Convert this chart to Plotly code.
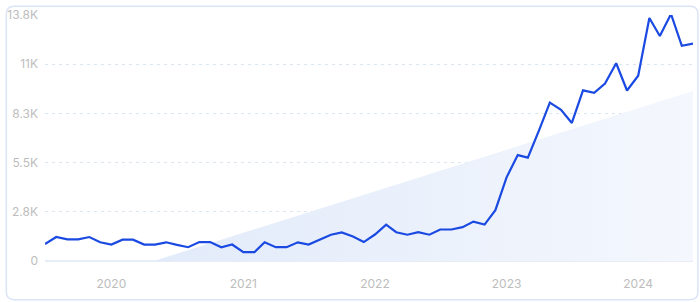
import plotly.graph_objects as go
import pandas as pd

months = pd.date_range("2019-07-01", "2024-06-01", freq="MS")
values = [950, 1340, 1210, 1210, 1340, 1045,
          920, 1190, 1190, 920, 920, 1045, 900, 770, 1060, 1060, 770, 920,
          495, 495, 1045, 770, 770, 1045, 920, 1190, 1470, 1600, 1375, 1060,
          1480, 2035, 1610, 1470, 1610, 1470, 1760, 1760, 1890, 2200, 2035, 2840,
          4675, 5920, 5775, 7300, 8855, 8450, 7715, 9540, 9405, 9915, 11055, 9530,
          10355, 13585, 12580, 13805, 12030, 12155]

trend_dates = ["2020-04-28", "2024-06-01"]
trend_values = [0, 9500]

tick_vals = [0, 2750, 5500, 8250, 11000, 13750]
tick_text = ["0", "2.8K", "5.5K", "8.3K", "11K", "13.8K"]
year_ticks = ["2020-01-01", "2021-01-01", "2022-01-01", "2023-01-01", "2024-01-01"]
year_labels = ["2020", "2021", "2022", "2023", "2024"]

fig = go.Figure()
fig.add_trace(go.Scatter(
    x=trend_dates, y=trend_values, mode="lines",
    line=dict(width=0, color="rgba(0,0,0,0)"),
    fill="tozeroy",
    fillgradient=dict(type="horizontal",
                      colorscale=[[0, "#e2ebfa"], [1, "#f4f7fd"]]),
    hoverinfo="skip", showlegend=False))
fig.add_trace(go.Scatter(
    x=months, y=values, mode="lines",
    line=dict(color="#1a4ae2", width=2.2),
    showlegend=False))

fig.update_layout(
    width=700, height=302,
    margin=dict(l=40, r=7, t=10, b=41),
    paper_bgcolor="white", plot_bgcolor="white",
    font=dict(family="Inter", color="#bdbdbd", size=12),
    xaxis=dict(range=["2019-07-01", "2024-06-01"], tickvals=year_ticks,
               ticktext=year_labels, showgrid=False, zeroline=False,
               showline=False, ticks="", ticklabelstandoff=14),
    yaxis=dict(range=[0, 13750], tickvals=tick_vals, ticktext=tick_text,
               showgrid=True, gridcolor="#dbe6f3", griddash="3px,4px",
               gridwidth=1, zeroline=True, zerolinecolor="#e6edf7",
               zerolinewidth=2, ticks="", ticklabelstandoff=6),
)

# rounded card border (paper coords are relative to plot area)
w, h, r = 700, 302, 8
pw, ph = w - 40 - 7, h - 10 - 41
def px(xp):
    return (xp - 40) / pw
def py(yp):
    return (h - 41 - yp) / ph
X0, X1 = px(1), px(698)
Y0, Y1 = py(300.5), py(1)
RX, RY = r / pw, r / ph
path = (f"M {X0+RX},{Y0} L {X1-RX},{Y0} Q {X1},{Y0} {X1},{Y0+RY} "
        f"L {X1},{Y1-RY} Q {X1},{Y1} {X1-RX},{Y1} L {X0+RX},{Y1} "
        f"Q {X0},{Y1} {X0},{Y1-RY} L {X0},{Y0+RY} Q {X0},{Y0} {X0+RX},{Y0} Z")
fig.add_shape(type="path", path=path, xref="paper", yref="paper",
              line=dict(color="#dbe4f7", width=1.5), layer="below")

fig.write_html("out.html")
